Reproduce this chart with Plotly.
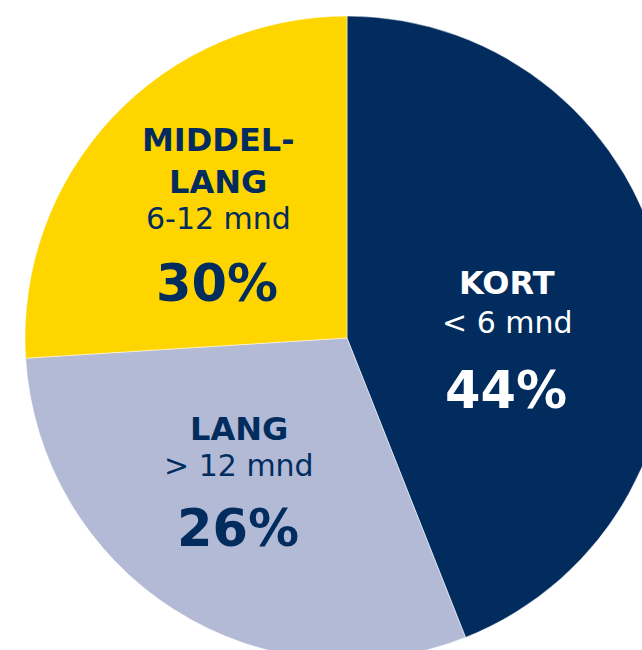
import plotly.graph_objects as go

# Slice order clockwise from 12 o'clock, as drawn
categories = ["KORT", "LANG", "MIDDEL-LANG"]
slice_values = [44, 30, 26]          # slice sizes as drawn in the picture
title_lines = ["KORT", "LANG", "MIDDEL-<br>LANG"]
sub_labels = ["< 6 mnd", "> 12 mnd", "6-12 mnd"]
shown_pct = ["44%", "26%", "30%"]    # percentages printed in the slices
colors = ["#022C5E", "#B2BAD5", "#FFD500"]
text_colors = ["#FFFFFF", "#022C5E", "#022C5E"]

W, H = 700, 700
OFF = 0  # body margin removed below
cx, cy, r = 347 - OFF, 338 - OFF, 322

fig = go.Figure(go.Pie(
    labels=categories,
    values=slice_values,
    sort=False,
    direction="clockwise",
    rotation=0,
    marker=dict(colors=colors, line=dict(color="#FFFFFF", width=0.5)),
    textinfo="none",
    hoverinfo="label+percent",
    showlegend=False,
    domain=dict(x=[(cx - r) / W, (cx + r) / W], y=[1 - (cy + r) / H, 1 - (cy - r) / H]),
))

# label line centres (page pixel coords)
title_pos = [(507, 283), (239, 429), (218, 161)]
sub_pos = [(507, 322), (239, 465), (218, 219)]
pct_pos = [(506, 390), (238, 528), (217, 283)]

def px(x):
    return (x - OFF) / W

def py(y):
    return 1 - (y - OFF) / H

font = "DejaVu Sans, Verdana, sans-serif"
ann = []
for i in range(len(categories)):
    ann.append(dict(x=px(title_pos[i][0]), y=py(title_pos[i][1]), xref="paper", yref="paper",
                    text="<b>" + title_lines[i] + "</b>", showarrow=False,
                    font=dict(family=font, size=32, color=text_colors[i]),
                    xanchor="center", yanchor="middle"))
    ann.append(dict(x=px(sub_pos[i][0]), y=py(sub_pos[i][1]), xref="paper", yref="paper",
                    text=sub_labels[i], showarrow=False,
                    font=dict(family=font, size=30, color=text_colors[i]),
                    xanchor="center", yanchor="middle"))
    ann.append(dict(x=px(pct_pos[i][0]), y=py(pct_pos[i][1]), xref="paper", yref="paper",
                    text="<b>" + shown_pct[i] + "</b>", showarrow=False,
                    font=dict(family=font, size=51, color=text_colors[i]),
                    xanchor="center", yanchor="middle"))

fig.update_layout(
    width=W, height=H,
    margin=dict(l=0, r=0, t=0, b=0),
    paper_bgcolor="white",
    plot_bgcolor="white",
    annotations=ann,
)

fig.write_html("out.html", config={"displayModeBar": False},
               post_script="document.body.style.margin='0';document.documentElement.style.overflow='hidden';")
